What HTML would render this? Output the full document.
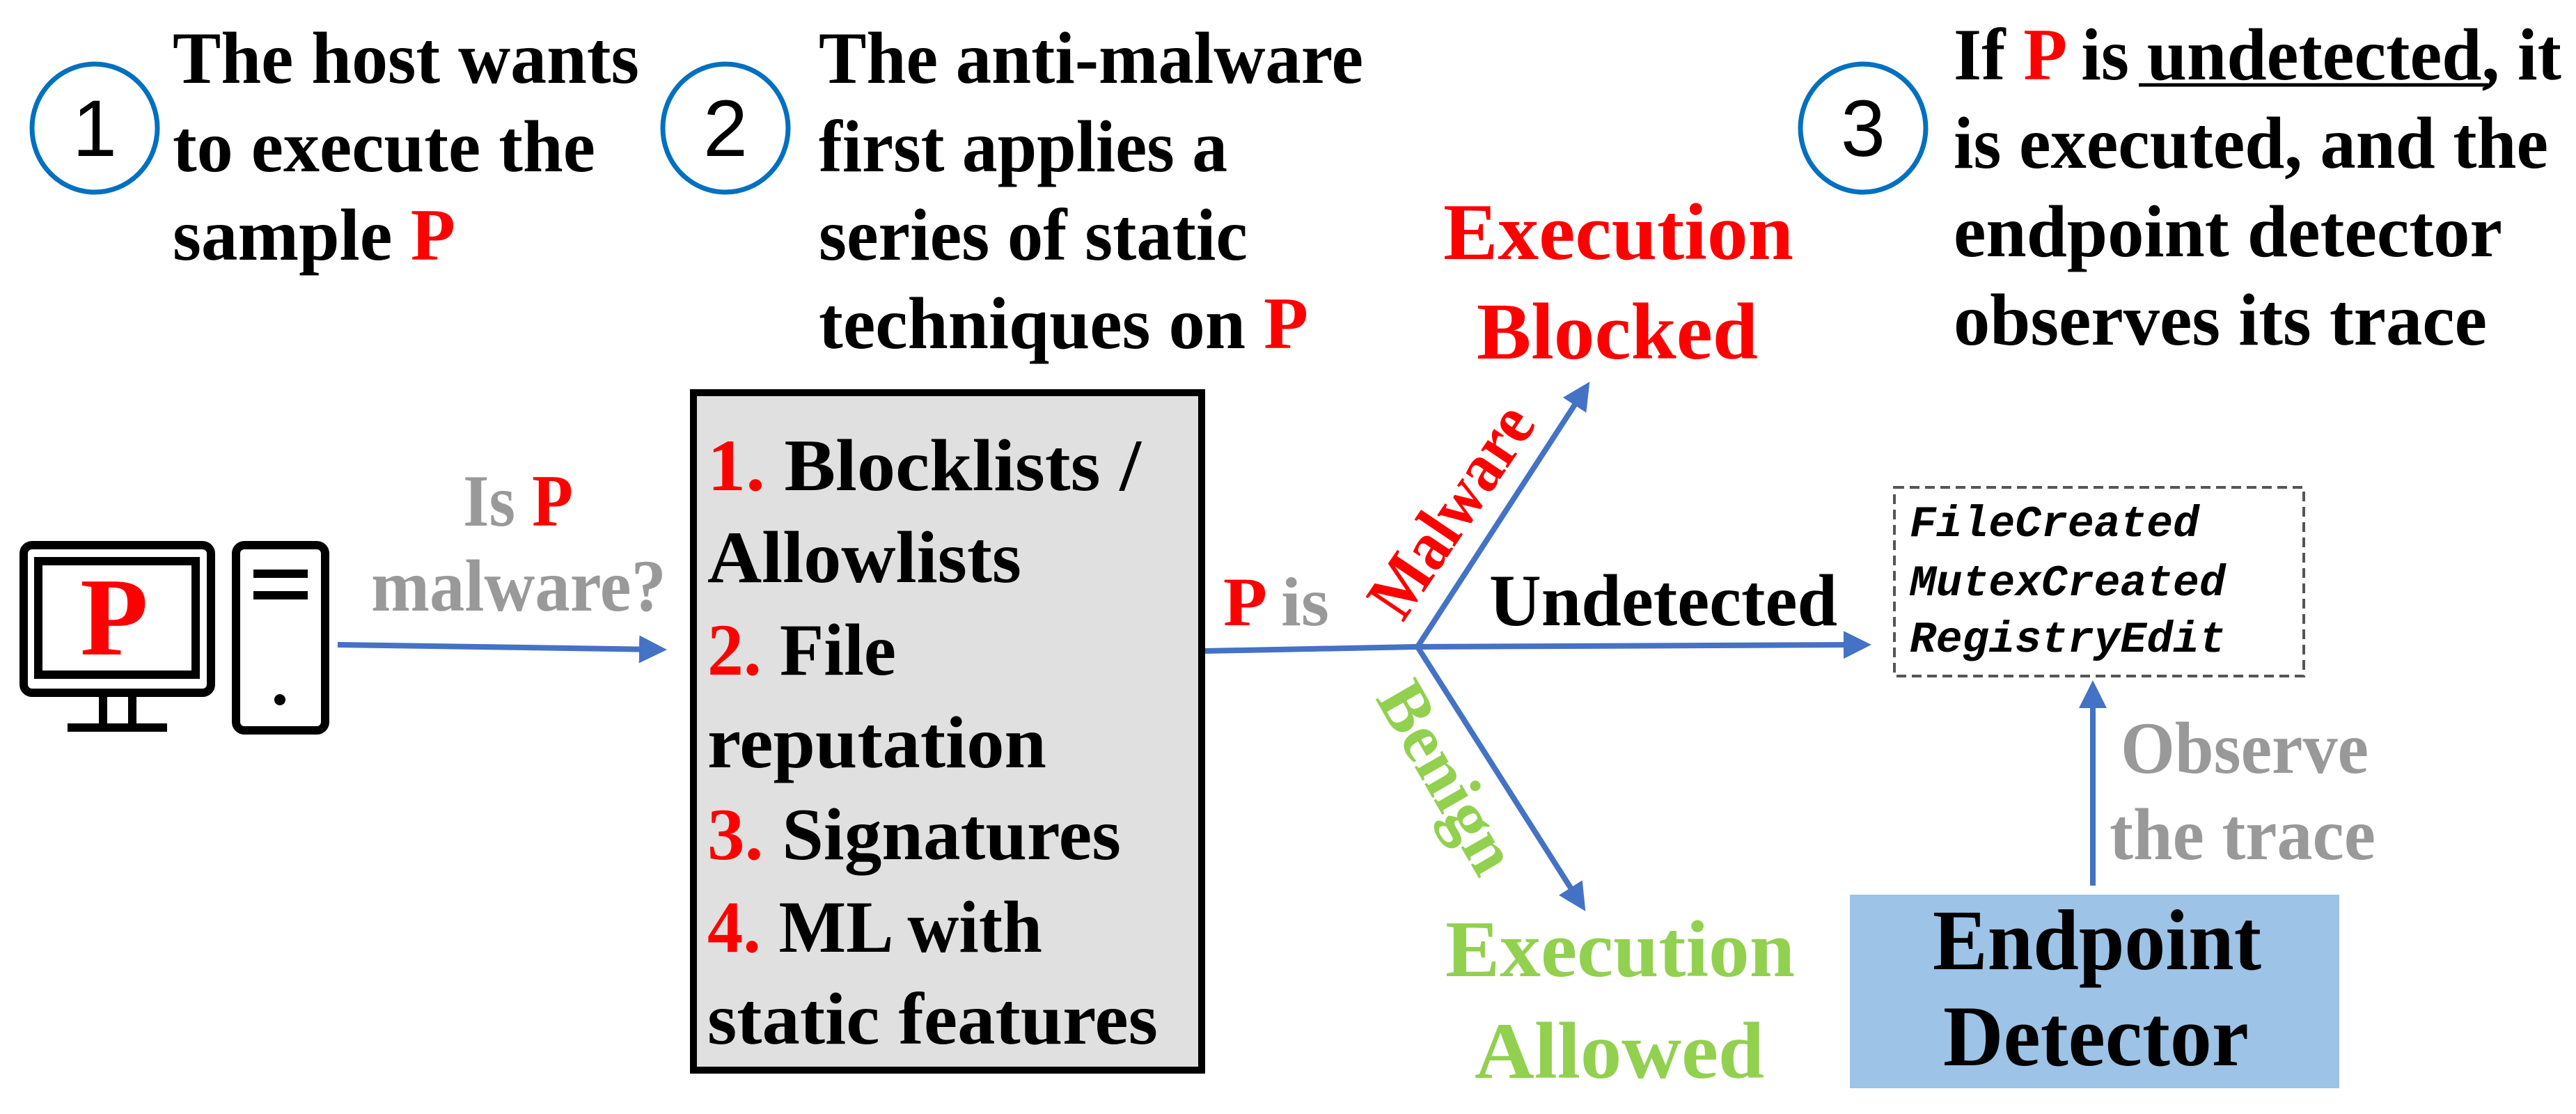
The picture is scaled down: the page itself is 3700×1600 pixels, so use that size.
<!DOCTYPE html>
<html><head><meta charset="utf-8"><style>html,body{margin:0;padding:0;background:#fff}svg{display:block}</style></head>
<body>
<svg width="3700" height="1600" viewBox="0 0 3700 1600" xmlns="http://www.w3.org/2000/svg" font-family="'Liberation Serif', serif">
<defs>
<marker id="ah" markerWidth="5" markerHeight="5" refX="4" refY="2.5" orient="auto" markerUnits="strokeWidth"><path d="M0,0 L5,2.5 L0,5 Z" fill="#4472c4"/></marker>
</defs>
<g fill="none" stroke="#0070c0" stroke-width="7">
<ellipse cx="136" cy="184" rx="90" ry="92"/>
<ellipse cx="1042" cy="184" rx="90" ry="92"/>
<ellipse cx="2676" cy="184" rx="90" ry="92"/>
</g>
<g font-family="'Liberation Sans', sans-serif" font-size="115" text-anchor="middle">
<text x="136" y="224">1</text><text x="1042" y="224">2</text><text x="2676" y="224">3</text>
</g>
<g font-size="106" fill="#000" font-weight="bold">
<text x="248" y="119" textLength="670" lengthAdjust="spacingAndGlyphs">The host wants</text>
<text x="248" y="246" textLength="607" lengthAdjust="spacingAndGlyphs">to execute the</text>
<text x="248" y="373" textLength="406" lengthAdjust="spacingAndGlyphs">sample <tspan fill="#ff0000">P</tspan></text>
<text x="1176" y="119" textLength="782" lengthAdjust="spacingAndGlyphs">The anti-malware</text>
<text x="1176" y="246" textLength="587" lengthAdjust="spacingAndGlyphs">first applies a</text>
<text x="1176" y="373" textLength="616" lengthAdjust="spacingAndGlyphs">series of static</text>
<text x="1176" y="500" textLength="703" lengthAdjust="spacingAndGlyphs">techniques on <tspan fill="#ff0000">P</tspan></text>
<text x="2806" y="114" textLength="873" lengthAdjust="spacingAndGlyphs">If <tspan fill="#ff0000">P</tspan> is undetected, it</text>
<text x="2806" y="241" textLength="854" lengthAdjust="spacingAndGlyphs">is executed, and the</text>
<text x="2806" y="368" textLength="788" lengthAdjust="spacingAndGlyphs">endpoint detector</text>
<text x="2806" y="495" textLength="766" lengthAdjust="spacingAndGlyphs">observes its trace</text>
</g>
<line x1="3072" y1="122" x2="3574" y2="122" stroke="#000" stroke-width="5"/>
<g fill="none" stroke="#000" stroke-width="12">
<rect x="34" y="783" width="269" height="212" rx="12"/>
<rect x="55" y="806" width="226" height="163"/>
<line x1="148" y1="995" x2="148" y2="1045"/><line x1="190" y1="995" x2="190" y2="1045"/>
<line x1="97" y1="1045" x2="240" y2="1045"/>
<rect x="339" y="783" width="128" height="266" rx="12"/>
<line x1="364" y1="824" x2="442" y2="824"/><line x1="364" y1="855" x2="442" y2="855"/>
</g>
<circle cx="402" cy="1005" r="8" fill="#000"/>
<text x="164" y="940" font-size="160" font-weight="bold" fill="#ff0000" text-anchor="middle">P</text>
<g font-weight="bold" font-size="106">
<text x="665" y="755" fill="#999" textLength="158" lengthAdjust="spacingAndGlyphs">Is <tspan fill="#ff0000">P</tspan></text>
<text x="533" y="877" fill="#999" textLength="424" lengthAdjust="spacingAndGlyphs">malware?</text>
</g>
<g stroke="#4472c4" stroke-width="8" fill="none">
<line x1="485" y1="926" x2="950" y2="933" marker-end="url(#ah)"/>
<polyline points="1731,935 2036,929 2680,926" marker-end="url(#ah)"/>
<line x1="2036" y1="929" x2="2279" y2="555" marker-end="url(#ah)"/>
<line x1="2036" y1="929" x2="2273" y2="1302" marker-end="url(#ah)"/>
<line x1="3006" y1="1272" x2="3006" y2="985" marker-end="url(#ah)"/>
</g>
<rect x="996" y="564" width="730" height="973" fill="#e0e0e0" stroke="#000" stroke-width="10"/>
<g font-size="106" fill="#000" font-weight="bold">
<text x="1016" y="704" textLength="623" lengthAdjust="spacingAndGlyphs"><tspan fill="#ff0000">1.</tspan> Blocklists /</text>
<text x="1016" y="836" textLength="451" lengthAdjust="spacingAndGlyphs">Allowlists</text>
<text x="1016" y="969" textLength="271" lengthAdjust="spacingAndGlyphs"><tspan fill="#ff0000">2.</tspan> File</text>
<text x="1016" y="1102" textLength="487" lengthAdjust="spacingAndGlyphs">reputation</text>
<text x="1016" y="1234" textLength="594" lengthAdjust="spacingAndGlyphs"><tspan fill="#ff0000">3.</tspan> Signatures</text>
<text x="1016" y="1367" textLength="481" lengthAdjust="spacingAndGlyphs"><tspan fill="#ff0000">4.</tspan> ML with</text>
<text x="1016" y="1499" textLength="647" lengthAdjust="spacingAndGlyphs">static features</text>
</g>
<g font-weight="bold">
<text x="1757" y="898" font-size="100" fill="#999" textLength="152" lengthAdjust="spacingAndGlyphs"><tspan fill="#ff0000">P</tspan> is</text>
<text x="2073" y="372" font-size="115" fill="#ff0000" textLength="503" lengthAdjust="spacingAndGlyphs">Execution</text>
<text x="2121" y="515" font-size="115" fill="#ff0000" textLength="404" lengthAdjust="spacingAndGlyphs">Blocked</text>
<text x="2139" y="898" font-size="106" fill="#000" textLength="500" lengthAdjust="spacingAndGlyphs">Undetected</text>
<text x="2076" y="1402" font-size="115" fill="#92d050" textLength="502" lengthAdjust="spacingAndGlyphs">Execution</text>
<text x="2118" y="1548" font-size="115" fill="#92d050" textLength="416" lengthAdjust="spacingAndGlyphs">Allowed</text>
<text transform="translate(2015,895) rotate(-56)" font-size="100" fill="#ff0000" textLength="345" lengthAdjust="spacingAndGlyphs">Malware</text>
<text transform="translate(1975,1003) rotate(60)" font-size="100" fill="#92d050" textLength="300" lengthAdjust="spacingAndGlyphs">Benign</text>
</g>
<rect x="2721" y="700" width="588" height="271" fill="none" stroke="#555" stroke-width="4" stroke-dasharray="14,8"/>
<g font-family="'Liberation Mono', monospace" font-style="italic" font-weight="bold" font-size="63" fill="#000">
<text x="2743" y="770">FileCreated</text>
<text x="2743" y="855">MutexCreated</text>
<text x="2743" y="936">RegistryEdit</text>
</g>
<g font-weight="bold">
<text x="3046" y="1110" font-size="106" fill="#999" textLength="356" lengthAdjust="spacingAndGlyphs">Observe</text>
<text x="3030" y="1234" font-size="106" fill="#999" textLength="382" lengthAdjust="spacingAndGlyphs">the trace</text>
</g>
<rect x="2657" y="1285" width="703" height="278" fill="#9dc3e6"/>
<g font-weight="bold">
<text x="2776" y="1392" font-size="124" fill="#000" textLength="472" lengthAdjust="spacingAndGlyphs">Endpoint</text>
<text x="2791" y="1530" font-size="124" fill="#000" textLength="439" lengthAdjust="spacingAndGlyphs">Detector</text>
</g>
</svg>
</body></html>
